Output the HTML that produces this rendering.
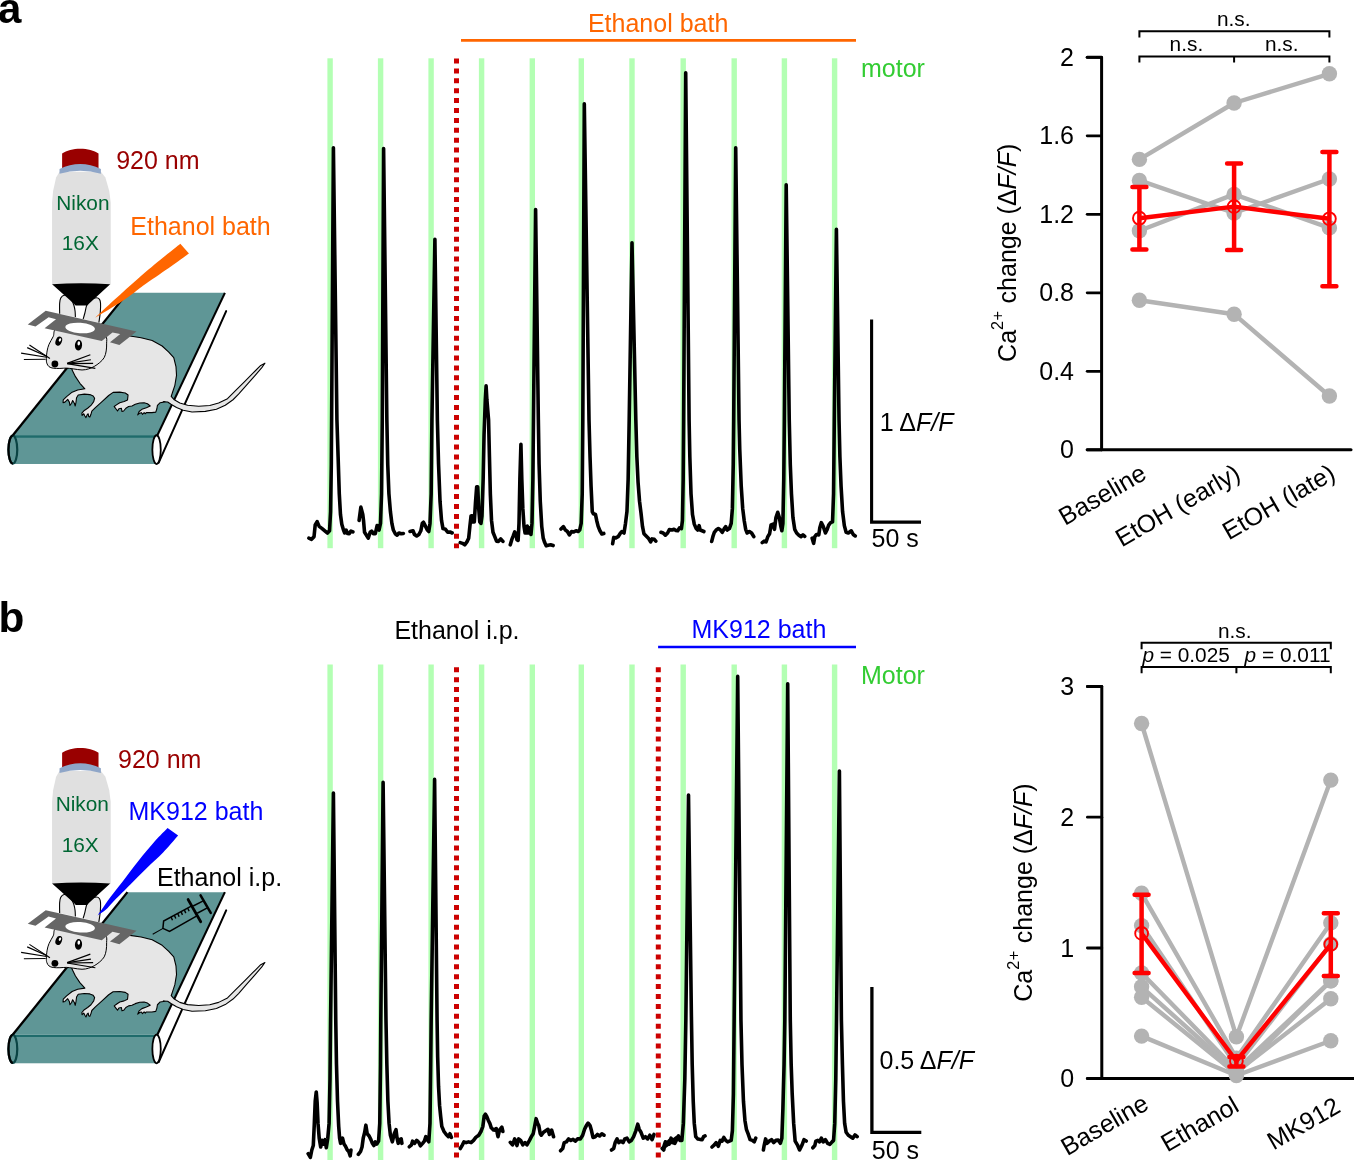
<!DOCTYPE html>
<html><head><meta charset="utf-8"><title>Figure</title>
<style>
html,body{margin:0;padding:0;background:#fff;}
body{width:1354px;height:1160px;overflow:hidden;}
svg{display:block;font-family:'Liberation Sans', sans-serif;}
</style></head><body>
<svg width="1354" height="1160" viewBox="0 0 1354 1160">
<rect width="1354" height="1160" fill="#fff"/>
<text x="-2.00" y="22.70" font-size="42" fill="#000" text-anchor="start" font-weight="bold">a</text>
<text x="-1.50" y="632.30" font-size="42.3" fill="#000" text-anchor="start" font-weight="bold">b</text>
<rect x="327.40" y="58.30" width="5.4" height="489.90" fill="#b3ffb3"/>
<rect x="377.90" y="58.30" width="5.4" height="489.90" fill="#b3ffb3"/>
<rect x="428.40" y="58.30" width="5.4" height="489.90" fill="#b3ffb3"/>
<rect x="478.90" y="58.30" width="5.4" height="489.90" fill="#b3ffb3"/>
<rect x="529.60" y="58.30" width="5.4" height="489.90" fill="#b3ffb3"/>
<rect x="578.60" y="58.30" width="5.4" height="489.90" fill="#b3ffb3"/>
<rect x="629.30" y="58.30" width="5.4" height="489.90" fill="#b3ffb3"/>
<rect x="680.50" y="58.30" width="5.4" height="489.90" fill="#b3ffb3"/>
<rect x="731.50" y="58.30" width="5.4" height="489.90" fill="#b3ffb3"/>
<rect x="781.70" y="58.30" width="5.4" height="489.90" fill="#b3ffb3"/>
<rect x="831.90" y="58.30" width="5.4" height="489.90" fill="#b3ffb3"/>
<line x1="456.50" y1="58.50" x2="456.50" y2="548.20" stroke="#cc0000" stroke-width="5" stroke-dasharray="5 4.9"/>
<path d="M308.86,538.17 L311.52,539.35 L314.03,536.69 L315.21,524.87 L317.13,521.62 L319.20,526.35 L322.16,528.57 L325.11,531.08 L327.47,533.00 L329.54,530.78 L330.58,511.58 L331.31,464.31 L331.61,420.00 L333.40,147.80 L336.93,420.00 L338.11,456.93 L339.29,493.86 L340.47,514.53 L341.80,524.14 L343.28,529.31 L344.61,533.00 L346.09,530.04 L347.56,533.44 L349.19,533.74 L350.96,531.08 L352.88,531.96" fill="none" stroke="#000" stroke-width="3.6" stroke-linejoin="round" stroke-linecap="round"/>
<path d="M359.08,520.44 L360.86,507.15 L362.78,514.53 L363.52,520.44 L364.55,532.26 L366.47,535.21 L368.24,538.17 L370.16,532.26 L371.64,531.08 L373.41,533.74 L375.33,533.74 L377.10,525.61 L379.03,530.04 L380.50,523.40 L381.54,493.86 L382.27,420.00 L383.60,148.50 L386.85,420.00 L387.74,464.31 L388.92,493.86 L390.40,511.58 L391.88,523.40 L393.35,530.04 L395.27,533.74 L397.19,535.21 L398.97,533.00 L401.18,533.74 L403.40,533.44" fill="none" stroke="#000" stroke-width="3.6" stroke-linejoin="round" stroke-linecap="round"/>
<path d="M410.04,531.52 L413.00,530.78 L414.48,534.48 L416.69,535.95 L418.91,534.48 L420.83,530.78 L422.30,523.40 L423.49,522.22 L425.55,526.35 L427.33,530.04 L428.80,531.52 L429.99,523.40 L431.17,493.86 L431.91,420.00 L434.90,239.20 L437.37,420.00 L438.55,464.31 L440.03,501.24 L441.51,520.44 L442.98,528.57 L445.49,529.31 L447.71,532.26 L449.93,531.96 L452.14,533.00" fill="none" stroke="#000" stroke-width="3.6" stroke-linejoin="round" stroke-linecap="round"/>
<path d="M460.27,542.60 L462.48,543.34 L464.70,544.82 L466.91,541.86 L468.69,538.17 L469.87,526.35 L471.05,516.01 L472.08,515.72 L473.12,521.92 L474.30,521.92 L475.48,502.72 L476.66,486.77 L477.70,486.77 L478.73,508.63 L479.76,521.92 L480.95,523.40 L481.98,516.01 L483.16,479.08 L484.05,434.77 L485.30,400.00 L486.10,385.80 L486.90,400.00 L488.57,420.00 L489.45,456.93 L490.34,493.86 L491.52,520.44 L493.00,532.26 L494.77,536.69 L496.54,541.12 L498.46,541.42 L500.68,538.91 L502.90,541.42" fill="none" stroke="#000" stroke-width="3.6" stroke-linejoin="round" stroke-linecap="round"/>
<path d="M510.28,544.82 L511.76,539.65 L513.23,535.95 L514.71,531.96 L515.89,533.74 L516.93,539.65 L518.11,540.38 L519.00,523.40 L519.88,479.08 L520.92,444.37 L521.80,479.08 L522.84,508.63 L524.02,526.35 L525.05,533.00 L526.23,533.00 L527.27,526.06 L528.45,533.00 L529.93,527.83 L530.96,534.48 L531.99,523.40 L532.88,479.08 L533.47,420.00 L535.60,209.50 L538.35,420.00 L539.08,464.31 L540.27,501.24 L541.74,526.35 L543.22,538.17 L544.70,542.60 L546.17,545.85 L548.24,545.26 L550.61,544.82 L553.12,545.55" fill="none" stroke="#000" stroke-width="3.6" stroke-linejoin="round" stroke-linecap="round"/>
<path d="M560.95,529.01 L563.46,526.65 L565.38,530.04 L567.44,531.52 L569.36,534.92 L571.58,531.52 L573.80,531.96 L576.01,530.78 L578.23,531.52 L579.70,530.04 L581.18,523.40 L582.22,493.86 L582.81,420.00 L584.30,103.80 L589.01,420.00 L590.04,456.93 L591.08,486.47 L592.26,511.58 L593.44,513.80 L595.51,514.53 L596.69,520.44 L598.17,526.35 L599.94,530.78 L601.86,534.03 L603.78,533.44" fill="none" stroke="#000" stroke-width="3.6" stroke-linejoin="round" stroke-linecap="round"/>
<path d="M612.64,543.78 L613.68,537.43 L615.89,537.87 L618.11,536.69 L620.03,533.74 L621.80,531.52 L624.02,533.00 L625.49,523.40 L626.97,511.58 L628.15,479.08 L629.19,420.00 L632.00,242.80 L635.83,420.00 L636.87,456.93 L638.05,482.04 L639.53,501.24 L641.00,513.06 L642.48,526.35 L643.96,533.74 L646.17,535.95 L648.39,538.17 L650.61,541.86 L652.08,538.91 L654.30,539.35 L655.78,541.12" fill="none" stroke="#000" stroke-width="3.6" stroke-linejoin="round" stroke-linecap="round"/>
<path d="M660.95,532.26 L663.16,533.00 L665.38,535.21 L667.59,533.00 L669.36,529.60 L672.02,530.04 L674.03,529.31 L675.95,530.49 L677.73,530.78 L679.50,527.83 L681.42,528.57 L682.45,520.44 L683.19,479.08 L683.63,420.00 L685.70,72.80 L689.10,420.00 L689.84,456.93 L691.02,493.86 L692.50,514.53 L694.27,524.14 L696.19,528.57 L697.67,530.04 L699.14,525.61 L700.18,530.04 L702.10,530.78 L703.87,531.52" fill="none" stroke="#000" stroke-width="3.6" stroke-linejoin="round" stroke-linecap="round"/>
<path d="M711.70,541.42 L712.88,536.69 L714.36,532.26 L716.13,530.04 L718.35,528.57 L720.56,530.04 L722.33,532.26 L724.25,528.57 L725.73,526.65 L727.21,530.04 L729.42,528.57 L731.20,523.40 L732.38,508.63 L733.26,464.31 L733.71,420.00 L735.70,147.80 L739.03,420.00 L739.76,449.54 L741.24,486.47 L742.72,508.63 L744.19,520.44 L745.67,529.31 L747.15,533.00 L749.36,531.52 L751.58,533.00 L753.80,536.69" fill="none" stroke="#000" stroke-width="3.6" stroke-linejoin="round" stroke-linecap="round"/>
<path d="M762.22,542.60 L764.14,541.12 L766.06,541.86 L767.83,536.69 L769.60,533.74 L771.08,524.87 L773.00,524.14 L774.48,529.31 L775.95,517.49 L777.73,512.32 L779.35,517.49 L780.83,526.35 L781.86,530.78 L782.90,523.40 L783.78,479.08 L784.37,420.00 L786.20,184.80 L789.25,420.00 L790.28,464.31 L791.46,493.86 L792.94,517.49 L794.71,529.31 L796.63,533.00 L798.85,535.21 L801.06,536.69 L802.98,534.92 L804.76,536.40" fill="none" stroke="#000" stroke-width="3.6" stroke-linejoin="round" stroke-linecap="round"/>
<path d="M812.14,538.17 L813.62,543.34 L814.80,536.69 L816.57,534.48 L818.79,534.92 L819.82,527.83 L821.30,522.66 L823.22,526.35 L825.44,533.00 L826.91,530.04 L828.69,525.17 L830.61,522.66 L832.53,521.92 L833.56,493.86 L834.30,420.00 L836.40,229.20 L839.03,420.00 L839.91,456.93 L841.09,486.47 L842.57,511.58 L844.34,525.61 L846.12,532.26 L848.33,533.00 L851.29,530.78 L853.21,534.48 L855.27,535.95" fill="none" stroke="#000" stroke-width="3.6" stroke-linejoin="round" stroke-linecap="round"/>
<line x1="461.00" y1="40.40" x2="856.00" y2="40.40" stroke="#ff6600" stroke-width="2.7"/>
<text x="587.90" y="31.70" font-size="25" fill="#ff6600" text-anchor="start">Ethanol bath</text>
<text x="861.00" y="76.80" font-size="25" fill="#33cc33" text-anchor="start">motor</text>
<path d="M871.6,319.6 L871.6,522.1 L921,522.1" fill="none" stroke="#000" stroke-width="3.1"/>
<text x="879.80" y="430.70" font-size="25" fill="#000" text-anchor="start">1 Δ<tspan font-style="italic">F/F</tspan></text>
<text x="871.60" y="547.40" font-size="25" fill="#000" text-anchor="start">50 s</text>
<rect x="327.40" y="664.50" width="5.4" height="495.50" fill="#b3ffb3"/>
<rect x="377.90" y="664.50" width="5.4" height="495.50" fill="#b3ffb3"/>
<rect x="428.40" y="664.50" width="5.4" height="495.50" fill="#b3ffb3"/>
<rect x="478.90" y="664.50" width="5.4" height="495.50" fill="#b3ffb3"/>
<rect x="529.60" y="664.50" width="5.4" height="495.50" fill="#b3ffb3"/>
<rect x="578.60" y="664.50" width="5.4" height="495.50" fill="#b3ffb3"/>
<rect x="629.30" y="664.50" width="5.4" height="495.50" fill="#b3ffb3"/>
<rect x="680.50" y="664.50" width="5.4" height="495.50" fill="#b3ffb3"/>
<rect x="731.50" y="664.50" width="5.4" height="495.50" fill="#b3ffb3"/>
<rect x="781.70" y="664.50" width="5.4" height="495.50" fill="#b3ffb3"/>
<rect x="831.90" y="664.50" width="5.4" height="495.50" fill="#b3ffb3"/>
<line x1="456.50" y1="667.30" x2="456.50" y2="1160.00" stroke="#cc0000" stroke-width="5" stroke-dasharray="5 4.9"/>
<line x1="658.30" y1="667.30" x2="658.30" y2="1160.00" stroke="#cc0000" stroke-width="5" stroke-dasharray="5 4.9"/>
<path d="M308.12,1153.68 L310.34,1157.37 L311.82,1149.99 L313.29,1145.55 L314.33,1123.40 L315.21,1101.24 L316.25,1091.94 L317.13,1102.72 L318.02,1123.40 L319.20,1138.17 L320.68,1147.03 L322.16,1140.38 L323.63,1144.08 L325.11,1139.65 L326.29,1147.77 L327.77,1138.17 L329.10,1123.40 L329.99,1079.08 L330.58,1020.00 L333.40,793.00 L335.75,1020.00 L336.48,1064.31 L337.52,1101.24 L338.70,1126.35 L339.59,1138.17 L340.62,1143.34 L342.54,1138.17 L344.02,1144.08 L345.49,1146.29 L347.27,1149.99 L348.74,1151.46 L350.22,1155.89 L350.96,1149.99" fill="none" stroke="#000" stroke-width="3.6" stroke-linejoin="round" stroke-linecap="round"/>
<path d="M358.35,1154.42 L360.56,1151.46 L362.04,1147.03 L363.22,1138.17 L364.70,1132.26 L365.88,1125.17 L367.21,1133.74 L369.13,1135.95 L370.90,1139.65 L372.38,1143.34 L373.86,1145.55 L375.33,1141.86 L376.81,1144.08 L378.58,1141.12 L379.76,1123.40 L380.50,1064.31 L380.80,1020.00 L383.10,782.40 L385.97,1020.00 L386.85,1064.31 L387.89,1101.24 L389.07,1123.40 L390.40,1135.21 L392.32,1141.86 L394.24,1133.74 L396.01,1129.60 L397.05,1138.17 L398.23,1143.34 L399.70,1139.65 L401.18,1138.91 L401.92,1143.34" fill="none" stroke="#000" stroke-width="3.6" stroke-linejoin="round" stroke-linecap="round"/>
<path d="M409.31,1146.74 L411.52,1144.82 L412.56,1141.12 L414.48,1143.34 L416.69,1140.38 L418.91,1142.60 L420.38,1145.85 L422.60,1143.34 L424.37,1141.12 L425.85,1136.69 L427.33,1139.65 L428.80,1141.86 L429.99,1123.40 L430.72,1064.31 L431.17,1020.00 L434.60,779.40 L437.08,1020.00 L437.67,1056.93 L438.55,1086.47 L439.59,1105.67 L440.62,1116.01 L441.80,1126.35 L444.02,1131.52 L446.23,1134.48 L448.45,1136.69 L449.93,1133.74 L451.40,1137.43" fill="none" stroke="#000" stroke-width="3.6" stroke-linejoin="round" stroke-linecap="round"/>
<path d="M460.27,1148.51 L462.48,1144.82 L463.96,1141.86 L466.17,1142.60 L468.39,1141.86 L471.05,1142.60 L473.56,1140.38 L475.78,1137.43 L478.73,1135.21 L480.95,1131.52 L482.87,1126.35 L484.19,1116.01 L485.38,1114.24 L486.85,1116.75 L488.33,1120.44 L489.81,1123.40 L491.29,1127.83 L493.50,1130.04 L495.72,1129.01 L497.93,1130.78 L494.03,1130.04 L496.25,1128.57 L498.02,1136.69 L499.50,1130.04 L501.86,1127.09 L502.90,1131.52" fill="none" stroke="#000" stroke-width="3.6" stroke-linejoin="round" stroke-linecap="round"/>
<path d="M510.28,1142.30 L512.50,1144.82 L514.71,1138.91 L516.93,1145.55 L518.70,1138.91 L520.62,1140.38 L522.84,1144.82 L525.05,1142.60 L526.97,1144.82 L529.48,1140.38 L531.40,1136.69 L533.18,1133.74 L534.65,1126.35 L536.13,1118.67 L537.61,1123.40 L538.79,1125.61 L540.27,1133.74 L541.30,1135.21 L543.52,1132.26 L545.73,1130.78 L547.95,1129.31 L549.42,1134.48 L551.64,1130.04 L553.56,1136.69" fill="none" stroke="#000" stroke-width="3.6" stroke-linejoin="round" stroke-linecap="round"/>
<path d="M560.50,1150.72 L562.72,1148.51 L564.19,1142.60 L566.41,1141.86 L568.63,1138.91 L570.84,1140.38 L573.06,1139.35 L575.27,1141.12 L577.49,1138.91 L580.44,1138.91 L582.66,1135.21 L584.58,1129.31 L586.35,1125.61 L588.12,1123.10 L590.04,1125.61 L591.52,1130.78 L593.00,1137.43 L595.21,1136.69 L597.43,1134.48 L599.65,1135.95 L601.86,1133.74 L604.08,1135.21" fill="none" stroke="#000" stroke-width="3.6" stroke-linejoin="round" stroke-linecap="round"/>
<path d="M611.46,1149.99 L613.68,1148.51 L615.16,1142.60 L617.08,1138.91 L618.85,1142.60 L621.06,1141.12 L622.98,1142.60 L624.76,1138.91 L626.97,1138.17 L629.19,1141.86 L631.40,1140.38 L633.62,1136.69 L635.83,1130.78 L637.75,1124.14 L639.23,1129.31 L641.00,1132.26 L643.22,1138.17 L645.44,1136.69 L647.65,1138.91 L649.87,1135.21 L652.08,1139.65 L654.00,1134.48" fill="none" stroke="#000" stroke-width="3.6" stroke-linejoin="round" stroke-linecap="round"/>
<path d="M663.16,1148.51 L665.38,1141.86 L667.59,1142.60 L669.81,1140.38 L671.29,1138.91 L673.50,1141.86 L675.72,1138.91 L677.93,1136.69 L662.22,1148.51 L663.69,1149.99 L665.61,1141.86 L667.39,1143.34 L669.16,1144.08 L671.08,1138.17 L672.56,1142.60 L674.77,1143.34 L676.25,1140.38 L678.46,1135.95 L679.94,1140.38 L681.86,1140.38 L683.34,1123.40 L684.82,1079.08 L685.85,1020.00 L688.50,795.00 L691.46,1020.00 L692.20,1064.31 L693.23,1101.24 L694.27,1123.40 L695.75,1136.69 L697.67,1138.91 L699.88,1139.35 L702.10,1139.65 L703.57,1136.69 L705.05,1135.95" fill="none" stroke="#000" stroke-width="3.6" stroke-linejoin="round" stroke-linecap="round"/>
<path d="M711.99,1147.03 L714.36,1144.82 L716.13,1142.60 L718.35,1146.29 L720.27,1140.38 L722.04,1141.12 L723.81,1137.43 L725.73,1140.38 L727.65,1141.86 L729.42,1141.12 L731.20,1140.38 L732.38,1130.78 L733.41,1093.86 L734.15,1020.00 L737.70,676.40 L740.95,1020.00 L741.98,1064.31 L743.46,1101.24 L744.93,1120.44 L746.41,1129.31 L748.33,1134.48 L750.10,1139.65 L752.32,1140.38 L754.24,1141.86 L755.72,1138.17" fill="none" stroke="#000" stroke-width="3.6" stroke-linejoin="round" stroke-linecap="round"/>
<path d="M763.40,1149.99 L764.14,1145.55 L765.61,1138.91 L767.09,1143.34 L769.31,1141.12 L771.52,1139.65 L773.74,1142.60 L775.95,1140.38 L778.17,1139.94 L780.38,1143.34 L781.86,1138.17 L782.90,1108.63 L784.08,1064.31 L784.82,1020.00 L787.70,683.70 L790.28,1020.00 L791.17,1064.31 L792.20,1093.86 L793.68,1123.40 L795.16,1141.12 L797.37,1144.82 L799.59,1149.99 L801.80,1145.55 L804.02,1139.65 L806.23,1141.12" fill="none" stroke="#000" stroke-width="3.6" stroke-linejoin="round" stroke-linecap="round"/>
<path d="M812.88,1147.77 L814.80,1145.55 L815.83,1141.12 L817.75,1140.38 L819.53,1141.86 L821.30,1138.17 L823.22,1141.86 L825.44,1139.65 L827.65,1143.34 L829.87,1144.37 L832.08,1141.86 L833.56,1140.38 L834.74,1123.40 L835.78,1079.08 L836.51,1020.00 L839.40,771.00 L841.39,1020.00 L842.42,1064.31 L843.46,1101.24 L844.64,1123.40 L846.12,1132.26 L848.33,1135.21 L850.55,1136.69 L852.76,1138.17 L854.98,1134.92 L857.19,1136.69" fill="none" stroke="#000" stroke-width="3.6" stroke-linejoin="round" stroke-linecap="round"/>
<line x1="658.10" y1="647.00" x2="856.00" y2="647.00" stroke="#0000ff" stroke-width="2.4"/>
<text x="691.50" y="638.40" font-size="25" fill="#0000ff" text-anchor="start">MK912 bath</text>
<text x="394.40" y="638.60" font-size="25" fill="#000" text-anchor="start">Ethanol i.p.</text>
<text x="861.00" y="683.60" font-size="25" fill="#33cc33" text-anchor="start">Motor</text>
<path d="M871.9,987 L871.9,1132.4 L921.3,1132.4" fill="none" stroke="#000" stroke-width="3.3"/>
<text x="879.50" y="1069.40" font-size="25" fill="#000" text-anchor="start">0.5 Δ<tspan font-style="italic">F/F</tspan></text>
<text x="871.80" y="1158.60" font-size="25" fill="#000" text-anchor="start">50 s</text>
<path d="M1087.20,57.30 L1101.60,57.30 L1101.60,449.80" stroke="#000" stroke-width="3" fill="none" stroke-linejoin="round" stroke-linecap="round"/>
<line x1="1087.20" y1="449.80" x2="1351.00" y2="449.80" stroke="#000" stroke-width="3" stroke-linecap="round"/>
<line x1="1087.20" y1="57.30" x2="1101.60" y2="57.30" stroke="#000" stroke-width="2.8" stroke-linecap="round"/>
<text x="1074.00" y="65.80" font-size="25" fill="#000" text-anchor="end">2</text>
<line x1="1087.20" y1="135.80" x2="1101.60" y2="135.80" stroke="#000" stroke-width="2.8" stroke-linecap="round"/>
<text x="1074.00" y="144.30" font-size="25" fill="#000" text-anchor="end">1.6</text>
<line x1="1087.20" y1="214.30" x2="1101.60" y2="214.30" stroke="#000" stroke-width="2.8" stroke-linecap="round"/>
<text x="1074.00" y="222.80" font-size="25" fill="#000" text-anchor="end">1.2</text>
<line x1="1087.20" y1="292.80" x2="1101.60" y2="292.80" stroke="#000" stroke-width="2.8" stroke-linecap="round"/>
<text x="1074.00" y="301.30" font-size="25" fill="#000" text-anchor="end">0.8</text>
<line x1="1087.20" y1="371.30" x2="1101.60" y2="371.30" stroke="#000" stroke-width="2.8" stroke-linecap="round"/>
<text x="1074.00" y="379.80" font-size="25" fill="#000" text-anchor="end">0.4</text>
<line x1="1087.20" y1="449.80" x2="1101.60" y2="449.80" stroke="#000" stroke-width="2.8" stroke-linecap="round"/>
<text x="1074.00" y="458.30" font-size="25" fill="#000" text-anchor="end">0</text>
<path d="M1139.40,159.40 L1234.10,103.00 L1329.40,73.80" fill="none" stroke="#b3b3b3" stroke-width="4.4" stroke-linejoin="round"/>
<circle cx="1139.40" cy="159.40" r="7.7" fill="#b3b3b3"/>
<circle cx="1234.10" cy="103.00" r="7.7" fill="#b3b3b3"/>
<circle cx="1329.40" cy="73.80" r="7.7" fill="#b3b3b3"/>
<path d="M1139.40,180.40 L1234.10,213.00 L1329.40,179.00" fill="none" stroke="#b3b3b3" stroke-width="4.4" stroke-linejoin="round"/>
<circle cx="1139.40" cy="180.40" r="7.7" fill="#b3b3b3"/>
<circle cx="1234.10" cy="213.00" r="7.7" fill="#b3b3b3"/>
<circle cx="1329.40" cy="179.00" r="7.7" fill="#b3b3b3"/>
<path d="M1139.40,230.70 L1234.10,194.40 L1329.40,227.90" fill="none" stroke="#b3b3b3" stroke-width="4.4" stroke-linejoin="round"/>
<circle cx="1139.40" cy="230.70" r="7.7" fill="#b3b3b3"/>
<circle cx="1234.10" cy="194.40" r="7.7" fill="#b3b3b3"/>
<circle cx="1329.40" cy="227.90" r="7.7" fill="#b3b3b3"/>
<path d="M1139.40,300.30 L1234.10,314.20 L1329.40,396.00" fill="none" stroke="#b3b3b3" stroke-width="4.4" stroke-linejoin="round"/>
<circle cx="1139.40" cy="300.30" r="7.7" fill="#b3b3b3"/>
<circle cx="1234.10" cy="314.20" r="7.7" fill="#b3b3b3"/>
<circle cx="1329.40" cy="396.00" r="7.7" fill="#b3b3b3"/>
<path d="M1139.40,187.00 L1139.40,249.40 M1132.40,187.00 L1146.40,187.00 M1132.40,249.40 L1146.40,249.40" stroke="#ff0000" stroke-width="4.5" fill="none" stroke-linecap="round"/>
<path d="M1234.10,163.50 L1234.10,250.00 M1227.10,163.50 L1241.10,163.50 M1227.10,250.00 L1241.10,250.00" stroke="#ff0000" stroke-width="4.5" fill="none" stroke-linecap="round"/>
<path d="M1329.40,151.90 L1329.40,286.20 M1322.40,151.90 L1336.40,151.90 M1322.40,286.20 L1336.40,286.20" stroke="#ff0000" stroke-width="4.5" fill="none" stroke-linecap="round"/>
<path d="M1139.40,218.20 L1234.10,206.60 L1329.40,218.80" fill="none" stroke="#ff0000" stroke-width="4.4" stroke-linejoin="round"/>
<circle cx="1139.40" cy="218.20" r="6.4" fill="none" stroke="#ff0000" stroke-width="1.9"/>
<circle cx="1234.10" cy="206.60" r="6.4" fill="none" stroke="#ff0000" stroke-width="1.9"/>
<circle cx="1329.40" cy="218.80" r="6.4" fill="none" stroke="#ff0000" stroke-width="1.9"/>
<text x="1148.00" y="478.00" font-size="25" fill="#000" text-anchor="end" transform="rotate(-30 1148.00 478.00)">Baseline</text>
<text x="1242.00" y="478.00" font-size="25" fill="#000" text-anchor="end" transform="rotate(-30 1242.00 478.00)">EtOH (early)</text>
<text x="1337.00" y="478.00" font-size="25" fill="#000" text-anchor="end" transform="rotate(-30 1337.00 478.00)">EtOH (late)</text>
<text x="1016.30" y="361.90" font-size="25" fill="#000" text-anchor="start" transform="rotate(-90 1016.30 361.90)">Ca<tspan font-size="16.2" dy="-12.8" letter-spacing="0.55">2+</tspan><tspan dy="12.8"> change (</tspan>Δ<tspan font-style="italic">F/F</tspan>)</text>
<path d="M1139.40,37.6 L1139.40,31.2 L1329.40,31.2 L1329.40,37.6" fill="none" stroke="#000" stroke-width="2"/>
<path d="M1139.40,62.4 L1139.40,56.4 L1329.40,56.4 L1329.40,62.4 M1234.10,56.4 L1234.10,62.4" fill="none" stroke="#000" stroke-width="2"/>
<text x="1233.80" y="26.40" font-size="20.83" fill="#000" text-anchor="middle">n.s.</text>
<text x="1186.40" y="51.10" font-size="20.83" fill="#000" text-anchor="middle">n.s.</text>
<text x="1281.70" y="51.10" font-size="20.83" fill="#000" text-anchor="middle">n.s.</text>
<path d="M1087.40,686.50 L1101.80,686.50 L1101.80,1078.40" stroke="#000" stroke-width="3" fill="none" stroke-linejoin="round" stroke-linecap="round"/>
<line x1="1087.40" y1="1078.40" x2="1356.00" y2="1078.40" stroke="#000" stroke-width="3" stroke-linecap="round"/>
<line x1="1087.40" y1="686.50" x2="1101.80" y2="686.50" stroke="#000" stroke-width="2.8" stroke-linecap="round"/>
<text x="1074.20" y="695.00" font-size="25" fill="#000" text-anchor="end">3</text>
<line x1="1087.40" y1="817.20" x2="1101.80" y2="817.20" stroke="#000" stroke-width="2.8" stroke-linecap="round"/>
<text x="1074.20" y="825.70" font-size="25" fill="#000" text-anchor="end">2</text>
<line x1="1087.40" y1="948.00" x2="1101.80" y2="948.00" stroke="#000" stroke-width="2.8" stroke-linecap="round"/>
<text x="1074.20" y="956.50" font-size="25" fill="#000" text-anchor="end">1</text>
<line x1="1087.40" y1="1078.40" x2="1101.80" y2="1078.40" stroke="#000" stroke-width="2.8" stroke-linecap="round"/>
<text x="1074.20" y="1086.90" font-size="25" fill="#000" text-anchor="end">0</text>
<path d="M1141.60,723.50 L1236.40,1036.70 L1330.80,780.10" fill="none" stroke="#b3b3b3" stroke-width="4.4" stroke-linejoin="round"/>
<circle cx="1141.60" cy="723.50" r="7.7" fill="#b3b3b3"/>
<circle cx="1236.40" cy="1036.70" r="7.7" fill="#b3b3b3"/>
<circle cx="1330.80" cy="780.10" r="7.7" fill="#b3b3b3"/>
<path d="M1141.60,893.30 L1236.40,1058.20 L1330.80,922.90" fill="none" stroke="#b3b3b3" stroke-width="4.4" stroke-linejoin="round"/>
<circle cx="1141.60" cy="893.30" r="7.7" fill="#b3b3b3"/>
<circle cx="1236.40" cy="1058.20" r="7.7" fill="#b3b3b3"/>
<circle cx="1330.80" cy="922.90" r="7.7" fill="#b3b3b3"/>
<path d="M1141.60,925.60 L1236.40,1066.00 L1330.80,944.00" fill="none" stroke="#b3b3b3" stroke-width="4.4" stroke-linejoin="round"/>
<circle cx="1141.60" cy="925.60" r="7.7" fill="#b3b3b3"/>
<circle cx="1236.40" cy="1066.00" r="7.7" fill="#b3b3b3"/>
<circle cx="1330.80" cy="944.00" r="7.7" fill="#b3b3b3"/>
<path d="M1141.60,973.00 L1236.40,1070.00 L1330.80,980.90" fill="none" stroke="#b3b3b3" stroke-width="4.4" stroke-linejoin="round"/>
<circle cx="1141.60" cy="973.00" r="7.7" fill="#b3b3b3"/>
<circle cx="1236.40" cy="1070.00" r="7.7" fill="#b3b3b3"/>
<circle cx="1330.80" cy="980.90" r="7.7" fill="#b3b3b3"/>
<path d="M1141.60,986.80 L1236.40,1072.00 L1330.80,998.80" fill="none" stroke="#b3b3b3" stroke-width="4.4" stroke-linejoin="round"/>
<circle cx="1141.60" cy="986.80" r="7.7" fill="#b3b3b3"/>
<circle cx="1236.40" cy="1072.00" r="7.7" fill="#b3b3b3"/>
<circle cx="1330.80" cy="998.80" r="7.7" fill="#b3b3b3"/>
<path d="M1141.60,997.20 L1236.40,1074.00 L1330.80,980.90" fill="none" stroke="#b3b3b3" stroke-width="4.4" stroke-linejoin="round"/>
<circle cx="1141.60" cy="997.20" r="7.7" fill="#b3b3b3"/>
<circle cx="1236.40" cy="1074.00" r="7.7" fill="#b3b3b3"/>
<circle cx="1330.80" cy="980.90" r="7.7" fill="#b3b3b3"/>
<path d="M1141.60,1036.10 L1236.40,1075.50 L1330.80,1040.80" fill="none" stroke="#b3b3b3" stroke-width="4.4" stroke-linejoin="round"/>
<circle cx="1141.60" cy="1036.10" r="7.7" fill="#b3b3b3"/>
<circle cx="1236.40" cy="1075.50" r="7.7" fill="#b3b3b3"/>
<circle cx="1330.80" cy="1040.80" r="7.7" fill="#b3b3b3"/>
<path d="M1141.60,894.70 L1141.60,973.10 M1134.60,894.70 L1148.60,894.70 M1134.60,973.10 L1148.60,973.10" stroke="#ff0000" stroke-width="4.5" fill="none" stroke-linecap="round"/>
<path d="M1236.40,1056.90 L1236.40,1066.50 M1229.40,1056.90 L1243.40,1056.90 M1229.40,1066.50 L1243.40,1066.50" stroke="#ff0000" stroke-width="4.5" fill="none" stroke-linecap="round"/>
<path d="M1330.80,913.20 L1330.80,975.90 M1323.80,913.20 L1337.80,913.20 M1323.80,975.90 L1337.80,975.90" stroke="#ff0000" stroke-width="4.5" fill="none" stroke-linecap="round"/>
<path d="M1141.60,933.40 L1236.40,1061.00 L1330.80,944.40" fill="none" stroke="#ff0000" stroke-width="4.4" stroke-linejoin="round"/>
<circle cx="1141.60" cy="933.40" r="6.4" fill="none" stroke="#ff0000" stroke-width="1.9"/>
<circle cx="1236.40" cy="1061.00" r="6.4" fill="none" stroke="#ff0000" stroke-width="1.9"/>
<circle cx="1330.80" cy="944.40" r="6.4" fill="none" stroke="#ff0000" stroke-width="1.9"/>
<text x="1150.20" y="1108.20" font-size="25" fill="#000" text-anchor="end" transform="rotate(-30 1150.20 1108.20)">Baseline</text>
<text x="1240.70" y="1110.20" font-size="25" fill="#000" text-anchor="end" transform="rotate(-30 1240.70 1110.20)">Ethanol</text>
<text x="1342.00" y="1111.00" font-size="25" fill="#000" text-anchor="end" transform="rotate(-30 1342.00 1111.00)">MK912</text>
<text x="1031.80" y="1001.70" font-size="25" fill="#000" text-anchor="start" transform="rotate(-90 1031.80 1001.70)">Ca<tspan font-size="16.2" dy="-12.8" letter-spacing="0.55">2+</tspan><tspan dy="12.8"> change (</tspan>Δ<tspan font-style="italic">F/F</tspan>)</text>
<path d="M1141.60,649.2 L1141.60,642.8 L1330.80,642.8 L1330.80,649.2" fill="none" stroke="#000" stroke-width="2"/>
<path d="M1141.60,673.2 L1141.60,666.9 L1330.80,666.9 L1330.80,673.2 M1236.40,666.9 L1236.40,673.2" fill="none" stroke="#000" stroke-width="2"/>
<text x="1234.70" y="637.80" font-size="20.83" fill="#000" text-anchor="middle">n.s.</text>
<text x="1142.40" y="662.20" font-size="20.83" fill="#000" text-anchor="start"><tspan font-style="italic">p</tspan> = 0.025</text>
<text x="1244.60" y="662.20" font-size="20.83" fill="#000" text-anchor="start"><tspan font-style="italic">p</tspan> = 0.011</text>
<g><path d="M224.89,292.85 L226.17,311.06 L160.21,463.12 L157.42,435.28Z" fill="#fff" stroke="none"/>
<path d="M226.17,311.06 L158.71,462.69" fill="none" stroke="#000" stroke-width="2" stroke-linecap="round"/>
<path d="M127.44,292.85 L224.89,292.85 L157.42,435.28 L12.85,435.28Z" fill="#5f9696"/>
<rect x="12.85" y="435.28" width="143.50" height="28.70" fill="#5f9696"/>
<line x1="12.85" y1="436.48" x2="156.35" y2="436.48" stroke="#1f6b6b" stroke-width="2.3"/>
<ellipse cx="12.85" cy="449.63" rx="4.4" ry="14.0" fill="#5f9696" stroke="#0a4444" stroke-width="2.2"/>
<path d="M12.85,435.63 A4.4,14.0 0 0 0 12.85,463.63" fill="none" stroke="#000" stroke-width="2.2"/>
<ellipse cx="156.56" cy="449.63" rx="4.2" ry="14.4" fill="#fff" stroke="#000" stroke-width="1.8"/>
<path d="M12.85,435.28 L127.44,292.85" fill="none" stroke="#000" stroke-width="2.3"/>
<path d="M224.89,292.85 L157.10,435.92" fill="none" stroke="#000" stroke-width="2.1"/>
<path d="M95.00,325.00 L130.00,336.06 L141.08,337.72 L152.16,340.49 L162.13,346.03 L168.77,352.13 L173.76,357.66 L175.97,366.53 L176.53,375.39 L174.87,385.36 L172.65,392.01 L171.21,396.44 L174.31,399.76 L179.85,403.08 L187.60,405.30 L198.68,406.19 L209.76,405.52 L218.62,403.08 L227.49,398.65 L235.24,390.90 L244.10,382.04 L252.96,373.17 L260.72,365.42 L264.93,363.20 L261.83,367.63 L255.18,375.39 L246.32,385.36 L238.56,394.22 L233.02,399.76 L225.27,405.30 L216.41,409.18 L205.33,411.39 L192.04,411.95 L183.17,410.28 L176.53,407.52 L170.99,404.19 L167.66,401.98 L163.23,401.75 L165.18,401.90 L160.19,402.68 L157.43,405.45 L156.87,408.77 L155.76,412.10 L151.89,412.65 L146.35,412.65 L145.24,413.76 L144.13,412.65 L142.47,414.31 L141.36,412.65 L139.70,413.20 L137.71,414.87 L139.15,411.54 L141.92,409.33 L146.35,407.66 L150.22,406.00 L147.46,403.79 L144.13,402.68 L139.70,403.01 L135.27,404.34 L131.95,406.00 L128.62,406.56 L125.85,408.22 L123.64,410.99 L121.98,411.54 L121.42,408.22 L118.87,408.77 L117.55,410.99 L115.88,408.77 L114.22,406.56 L116.44,404.90 L119.76,402.68 L124.19,401.57 L127.52,399.91 L128.07,394.93 L125.30,393.04 L119.76,392.16 L113.11,392.38 L108.68,395.48 L102.04,401.57 L95.39,407.66 L91.84,411.21 L90.96,414.31 L89.85,417.08 L88.74,416.53 L88.19,413.76 L87.08,414.87 L85.97,417.63 L84.87,415.97 L83.76,413.76 L82.10,415.42 L81.87,413.20 L84.31,410.43 L87.63,408.22 L90.96,405.45 L93.73,401.57 L94.61,398.25 L93.17,396.03 L89.85,394.59 L84.31,394.15 L78.22,394.93 L76.56,397.69 L76.00,402.13 L75.23,406.00 L74.34,403.23 L72.68,400.46 L71.57,403.23 L69.91,405.45 L69.36,402.13 L67.69,399.36 L64.93,402.13 L63.04,402.68 L63.26,399.91 L66.59,396.59 L72.13,392.16 L77.66,389.94 L84.87,388.83 L79.88,383.29 L75.45,376.65 L72.13,370.00 L70.00,360.00Z" fill="#e6e6e6" stroke="#000" stroke-width="1.1" stroke-linejoin="round"/>
<path d="M59.66,313.82 C59.66,312.06 59.47,305.93 59.66,303.29 C59.84,300.65 60.03,299.32 60.77,297.98 C61.51,296.63 62.76,295.43 64.09,295.21 C65.42,294.99 67.41,295.67 68.74,296.65 C70.07,297.63 71.20,299.60 72.07,301.08 C72.93,302.55 73.45,303.85 73.95,305.51 C74.45,307.17 74.82,309.11 75.06,311.05 C75.30,312.99 75.33,316.13 75.39,317.14" fill="#e6e6e6" stroke="#000" stroke-width="1.1"/>
<path d="M83.14,319.02 C83.42,318.06 84.16,315.70 84.81,313.26 C85.45,310.83 86.01,306.71 87.02,304.40 C88.04,302.09 89.33,300.52 90.90,299.42 C92.47,298.31 95.00,297.75 96.44,297.75 C97.88,297.75 98.86,298.49 99.54,299.42 C100.22,300.34 100.41,301.17 100.54,303.29 C100.67,305.42 100.59,308.92 100.31,312.16 C100.04,315.39 99.11,320.93 98.87,322.68" fill="#e6e6e6" stroke="#000" stroke-width="1.1"/>
<path d="M56.56,328.77 C52.86,330.25 54.49,333.94 53.23,336.53 C51.98,339.11 50.04,341.88 49.02,344.28 C48.01,346.68 47.58,348.53 47.14,350.93 C46.70,353.33 46.42,356.65 46.37,358.68 C46.31,360.71 46.37,361.78 46.81,363.11 C47.25,364.44 47.95,365.81 49.02,366.66 C50.09,367.51 51.42,367.91 53.23,368.21 C55.04,368.51 57.66,368.45 59.88,368.43 C62.10,368.41 64.31,368.03 66.53,368.10 C68.74,368.17 70.59,368.56 73.17,368.87 C75.76,369.19 79.45,369.98 82.04,369.98 C84.62,369.98 86.65,369.47 88.68,368.87 C90.71,368.28 92.38,367.49 94.22,366.44 C96.07,365.38 98.10,364.04 99.76,362.56 C101.42,361.08 103.12,359.51 104.19,357.58 C105.26,355.64 105.78,353.33 106.19,350.93 C106.59,348.53 106.68,345.57 106.63,343.17 C106.57,340.77 107.37,338.37 105.85,336.53 C104.34,334.68 102.62,333.57 97.55,332.10 C92.47,330.62 82.22,328.22 75.39,327.66 C68.56,327.11 60.25,327.30 56.56,328.77Z" fill="#e6e6e6" stroke="#000" stroke-width="1"/>
<ellipse cx="58.77" cy="341.18" rx="3.1" ry="4.7" transform="rotate(22 58.77 341.18)" fill="#000"/>
<ellipse cx="59.97" cy="339.88" rx="1.1" ry="1.8" transform="rotate(22 59.97 339.88)" fill="#fff"/>
<ellipse cx="78.49" cy="345.17" rx="3.6" ry="5.4" transform="rotate(5 78.49 345.17)" fill="#000"/>
<ellipse cx="78.79" cy="343.37" rx="1.3" ry="2.1" transform="rotate(5 78.79 343.37)" fill="#fff"/>
<circle cx="54.90" cy="364.00" r="3.4" fill="#000"/>
<line x1="49.91" y1="358.46" x2="29.42" y2="345.06" stroke="#000" stroke-width="1.15"/>
<line x1="47.14" y1="356.47" x2="27.20" y2="347.60" stroke="#000" stroke-width="1.15"/>
<line x1="46.59" y1="357.24" x2="21.11" y2="353.14" stroke="#000" stroke-width="1.15"/>
<line x1="45.70" y1="359.24" x2="23.88" y2="359.46" stroke="#000" stroke-width="1.15"/>
<line x1="67.08" y1="363.34" x2="90.34" y2="354.81" stroke="#000" stroke-width="1.15"/>
<line x1="67.63" y1="363.34" x2="90.90" y2="359.79" stroke="#000" stroke-width="1.15"/>
<line x1="67.63" y1="363.67" x2="93.11" y2="363.34" stroke="#000" stroke-width="1.15"/>
<line x1="67.08" y1="363.67" x2="95.33" y2="368.43" stroke="#000" stroke-width="1.15"/>
<path d="M27.75,324.56 L45.70,310.83 L136.54,331.54 L119.37,345.06 L109.95,342.29 L120.25,334.09 L112.50,332.43 L101.75,340.96 L44.59,328.22 L56.00,319.13 L48.58,317.14 L35.51,326.56Z" fill="#666"/>
<ellipse cx="80.15" cy="328.00" rx="14.8" ry="5.2" transform="rotate(4 80.15 328.00)" fill="#fff"/>
<path d="M59.54,171.76 L100.88,171.76 L105.38,177.55 L109.23,191.04 L110.73,202.82 L110.73,284.64 L52.05,284.64 L52.05,202.82 L53.12,191.04 L56.11,177.55Z" fill="#e0e0e0"/>
<path d="M62.11,153.56 L62.11,168.98 L98.52,168.98 L98.52,153.56 C89.96,147.13 70.68,147.13 62.11,153.56 Z" fill="#990000"/>
<path d="M59.54,168.98 Q80.32,159.13 100.88,168.98 L100.88,173.69 Q80.32,167.70 59.54,173.69 Z" fill="#8fa6c8"/>
<path d="M52.09,284.30 Q81.09,282.19 110.17,284.30 L88.64,303.96 Q87.83,305.42 86.77,305.58 L76.05,305.58 Q75.08,305.42 74.26,303.96 Z" fill="#000"/>
<path d="M95.28,317.70 C98.46,314.72 107.13,306.46 114.37,299.83 C121.61,293.19 130.62,284.93 138.74,277.89 C146.86,270.85 156.18,263.27 163.11,257.58 C170.04,251.90 177.46,246.08 180.33,243.77 L188.94,253.52 C185.99,255.65 178.25,261.35 171.23,266.28 C164.22,271.20 152.96,278.76 146.86,283.09 C140.77,287.42 138.74,289.29 134.68,292.27 C130.62,295.25 126.56,298.25 122.49,300.96 C118.43,303.67 114.84,305.73 110.31,308.52 C105.77,311.31 97.78,316.17 95.28,317.70Z" fill="#ff6600"/></g>
<text x="116.20" y="168.90" font-size="25" fill="#990000" text-anchor="start">920 nm</text>
<text x="82.90" y="210.00" font-size="20.83" fill="#006633" text-anchor="middle">Nikon</text>
<text x="80.30" y="249.80" font-size="20.83" fill="#006633" text-anchor="middle">16X</text>
<text x="130.30" y="234.60" font-size="25" fill="#ff6600" text-anchor="start">Ethanol bath</text>
<g transform="translate(0,599.3)"><path d="M224.89,292.85 L226.17,311.06 L160.21,463.12 L157.42,435.28Z" fill="#fff" stroke="none"/>
<path d="M226.17,311.06 L158.71,462.69" fill="none" stroke="#000" stroke-width="2" stroke-linecap="round"/>
<path d="M127.44,292.85 L224.89,292.85 L157.42,435.28 L12.85,435.28Z" fill="#5f9696"/>
<rect x="12.85" y="435.28" width="143.50" height="28.70" fill="#5f9696"/>
<line x1="12.85" y1="436.48" x2="156.35" y2="436.48" stroke="#1f6b6b" stroke-width="2.3"/>
<ellipse cx="12.85" cy="449.63" rx="4.4" ry="14.0" fill="#5f9696" stroke="#0a4444" stroke-width="2.2"/>
<path d="M12.85,435.63 A4.4,14.0 0 0 0 12.85,463.63" fill="none" stroke="#000" stroke-width="2.2"/>
<ellipse cx="156.56" cy="449.63" rx="4.2" ry="14.4" fill="#fff" stroke="#000" stroke-width="1.8"/>
<path d="M12.85,435.28 L127.44,292.85" fill="none" stroke="#000" stroke-width="2.3"/>
<path d="M224.89,292.85 L157.10,435.92" fill="none" stroke="#000" stroke-width="2.1"/>
<line x1="152.70" y1="334.98" x2="163.04" y2="329.08" stroke="#000" stroke-width="1.1" stroke-linecap="butt"/>
<path d="M191.70,306.55 L163.63,321.69 L162.90,329.08 L169.54,332.03 L196.87,316.52" fill="none" stroke="#000" stroke-width="1.5" stroke-linejoin="miter"/>
<line x1="188.15" y1="300.27" x2="200.71" y2="322.43" stroke="#000" stroke-width="2.8" stroke-linecap="round"/>
<line x1="200.56" y1="296.06" x2="210.75" y2="313.57" stroke="#000" stroke-width="2.5" stroke-linecap="round"/>
<line x1="193.18" y1="306.70" x2="202.78" y2="301.90" stroke="#000" stroke-width="1.5" stroke-linecap="butt"/>
<line x1="197.24" y1="313.93" x2="206.84" y2="308.76" stroke="#000" stroke-width="1.5" stroke-linecap="butt"/>
<line x1="171.02" y1="317.71" x2="172.50" y2="320.96" stroke="#000" stroke-width="1.4" stroke-linecap="butt"/>
<line x1="174.34" y1="315.92" x2="175.82" y2="319.17" stroke="#000" stroke-width="1.4" stroke-linecap="butt"/>
<line x1="177.67" y1="314.13" x2="179.14" y2="317.38" stroke="#000" stroke-width="1.4" stroke-linecap="butt"/>
<line x1="180.99" y1="312.33" x2="182.47" y2="315.58" stroke="#000" stroke-width="1.4" stroke-linecap="butt"/>
<line x1="184.31" y1="310.54" x2="185.79" y2="313.79" stroke="#000" stroke-width="1.4" stroke-linecap="butt"/>
<line x1="187.64" y1="308.75" x2="189.11" y2="312.00" stroke="#000" stroke-width="1.4" stroke-linecap="butt"/>
<path d="M95.00,325.00 L130.00,336.06 L141.08,337.72 L152.16,340.49 L162.13,346.03 L168.77,352.13 L173.76,357.66 L175.97,366.53 L176.53,375.39 L174.87,385.36 L172.65,392.01 L171.21,396.44 L174.31,399.76 L179.85,403.08 L187.60,405.30 L198.68,406.19 L209.76,405.52 L218.62,403.08 L227.49,398.65 L235.24,390.90 L244.10,382.04 L252.96,373.17 L260.72,365.42 L264.93,363.20 L261.83,367.63 L255.18,375.39 L246.32,385.36 L238.56,394.22 L233.02,399.76 L225.27,405.30 L216.41,409.18 L205.33,411.39 L192.04,411.95 L183.17,410.28 L176.53,407.52 L170.99,404.19 L167.66,401.98 L163.23,401.75 L165.18,401.90 L160.19,402.68 L157.43,405.45 L156.87,408.77 L155.76,412.10 L151.89,412.65 L146.35,412.65 L145.24,413.76 L144.13,412.65 L142.47,414.31 L141.36,412.65 L139.70,413.20 L137.71,414.87 L139.15,411.54 L141.92,409.33 L146.35,407.66 L150.22,406.00 L147.46,403.79 L144.13,402.68 L139.70,403.01 L135.27,404.34 L131.95,406.00 L128.62,406.56 L125.85,408.22 L123.64,410.99 L121.98,411.54 L121.42,408.22 L118.87,408.77 L117.55,410.99 L115.88,408.77 L114.22,406.56 L116.44,404.90 L119.76,402.68 L124.19,401.57 L127.52,399.91 L128.07,394.93 L125.30,393.04 L119.76,392.16 L113.11,392.38 L108.68,395.48 L102.04,401.57 L95.39,407.66 L91.84,411.21 L90.96,414.31 L89.85,417.08 L88.74,416.53 L88.19,413.76 L87.08,414.87 L85.97,417.63 L84.87,415.97 L83.76,413.76 L82.10,415.42 L81.87,413.20 L84.31,410.43 L87.63,408.22 L90.96,405.45 L93.73,401.57 L94.61,398.25 L93.17,396.03 L89.85,394.59 L84.31,394.15 L78.22,394.93 L76.56,397.69 L76.00,402.13 L75.23,406.00 L74.34,403.23 L72.68,400.46 L71.57,403.23 L69.91,405.45 L69.36,402.13 L67.69,399.36 L64.93,402.13 L63.04,402.68 L63.26,399.91 L66.59,396.59 L72.13,392.16 L77.66,389.94 L84.87,388.83 L79.88,383.29 L75.45,376.65 L72.13,370.00 L70.00,360.00Z" fill="#e6e6e6" stroke="#000" stroke-width="1.1" stroke-linejoin="round"/>
<path d="M59.66,313.82 C59.66,312.06 59.47,305.93 59.66,303.29 C59.84,300.65 60.03,299.32 60.77,297.98 C61.51,296.63 62.76,295.43 64.09,295.21 C65.42,294.99 67.41,295.67 68.74,296.65 C70.07,297.63 71.20,299.60 72.07,301.08 C72.93,302.55 73.45,303.85 73.95,305.51 C74.45,307.17 74.82,309.11 75.06,311.05 C75.30,312.99 75.33,316.13 75.39,317.14" fill="#e6e6e6" stroke="#000" stroke-width="1.1"/>
<path d="M83.14,319.02 C83.42,318.06 84.16,315.70 84.81,313.26 C85.45,310.83 86.01,306.71 87.02,304.40 C88.04,302.09 89.33,300.52 90.90,299.42 C92.47,298.31 95.00,297.75 96.44,297.75 C97.88,297.75 98.86,298.49 99.54,299.42 C100.22,300.34 100.41,301.17 100.54,303.29 C100.67,305.42 100.59,308.92 100.31,312.16 C100.04,315.39 99.11,320.93 98.87,322.68" fill="#e6e6e6" stroke="#000" stroke-width="1.1"/>
<path d="M56.56,328.77 C52.86,330.25 54.49,333.94 53.23,336.53 C51.98,339.11 50.04,341.88 49.02,344.28 C48.01,346.68 47.58,348.53 47.14,350.93 C46.70,353.33 46.42,356.65 46.37,358.68 C46.31,360.71 46.37,361.78 46.81,363.11 C47.25,364.44 47.95,365.81 49.02,366.66 C50.09,367.51 51.42,367.91 53.23,368.21 C55.04,368.51 57.66,368.45 59.88,368.43 C62.10,368.41 64.31,368.03 66.53,368.10 C68.74,368.17 70.59,368.56 73.17,368.87 C75.76,369.19 79.45,369.98 82.04,369.98 C84.62,369.98 86.65,369.47 88.68,368.87 C90.71,368.28 92.38,367.49 94.22,366.44 C96.07,365.38 98.10,364.04 99.76,362.56 C101.42,361.08 103.12,359.51 104.19,357.58 C105.26,355.64 105.78,353.33 106.19,350.93 C106.59,348.53 106.68,345.57 106.63,343.17 C106.57,340.77 107.37,338.37 105.85,336.53 C104.34,334.68 102.62,333.57 97.55,332.10 C92.47,330.62 82.22,328.22 75.39,327.66 C68.56,327.11 60.25,327.30 56.56,328.77Z" fill="#e6e6e6" stroke="#000" stroke-width="1"/>
<ellipse cx="58.77" cy="341.18" rx="3.1" ry="4.7" transform="rotate(22 58.77 341.18)" fill="#000"/>
<ellipse cx="59.97" cy="339.88" rx="1.1" ry="1.8" transform="rotate(22 59.97 339.88)" fill="#fff"/>
<ellipse cx="78.49" cy="345.17" rx="3.6" ry="5.4" transform="rotate(5 78.49 345.17)" fill="#000"/>
<ellipse cx="78.79" cy="343.37" rx="1.3" ry="2.1" transform="rotate(5 78.79 343.37)" fill="#fff"/>
<circle cx="54.90" cy="364.00" r="3.4" fill="#000"/>
<line x1="49.91" y1="358.46" x2="29.42" y2="345.06" stroke="#000" stroke-width="1.15"/>
<line x1="47.14" y1="356.47" x2="27.20" y2="347.60" stroke="#000" stroke-width="1.15"/>
<line x1="46.59" y1="357.24" x2="21.11" y2="353.14" stroke="#000" stroke-width="1.15"/>
<line x1="45.70" y1="359.24" x2="23.88" y2="359.46" stroke="#000" stroke-width="1.15"/>
<line x1="67.08" y1="363.34" x2="90.34" y2="354.81" stroke="#000" stroke-width="1.15"/>
<line x1="67.63" y1="363.34" x2="90.90" y2="359.79" stroke="#000" stroke-width="1.15"/>
<line x1="67.63" y1="363.67" x2="93.11" y2="363.34" stroke="#000" stroke-width="1.15"/>
<line x1="67.08" y1="363.67" x2="95.33" y2="368.43" stroke="#000" stroke-width="1.15"/>
<path d="M27.75,324.56 L45.70,310.83 L136.54,331.54 L119.37,345.06 L109.95,342.29 L120.25,334.09 L112.50,332.43 L101.75,340.96 L44.59,328.22 L56.00,319.13 L48.58,317.14 L35.51,326.56Z" fill="#666"/>
<ellipse cx="80.15" cy="328.00" rx="14.8" ry="5.2" transform="rotate(4 80.15 328.00)" fill="#fff"/>
<path d="M59.54,171.76 L100.88,171.76 L105.38,177.55 L109.23,191.04 L110.73,202.82 L110.73,284.64 L52.05,284.64 L52.05,202.82 L53.12,191.04 L56.11,177.55Z" fill="#e0e0e0"/>
<path d="M62.11,153.56 L62.11,168.98 L98.52,168.98 L98.52,153.56 C89.96,147.13 70.68,147.13 62.11,153.56 Z" fill="#990000"/>
<path d="M59.54,168.98 Q80.32,159.13 100.88,168.98 L100.88,173.69 Q80.32,167.70 59.54,173.69 Z" fill="#8fa6c8"/>
<path d="M52.09,284.30 Q81.09,282.19 110.17,284.30 L88.64,303.96 Q87.83,305.42 86.77,305.58 L76.05,305.58 Q75.08,305.42 74.26,303.96 Z" fill="#000"/>
<path d="M97.40,316.20 C98.06,315.28 99.22,313.76 101.37,310.71 C103.52,307.65 106.79,302.58 110.31,297.87 C113.83,293.16 117.76,288.53 122.49,282.44 C127.23,276.35 133.33,268.09 138.74,261.32 C144.16,254.55 150.18,247.26 154.99,241.82 C159.79,236.38 165.48,230.85 167.58,228.66 L178.14,236.30 C175.63,239.11 168.32,247.81 163.11,253.19 C157.90,258.58 152.28,263.35 146.86,268.63 C141.45,273.91 136.03,279.46 130.62,284.88 C125.20,290.29 118.57,296.82 114.37,301.12 C110.17,305.43 108.26,308.20 105.43,310.71 C102.61,313.22 98.74,315.28 97.40,316.20Z" fill="#0000ff"/></g>
<text x="118.00" y="767.50" font-size="25" fill="#990000" text-anchor="start">920 nm</text>
<text x="82.30" y="810.90" font-size="20.83" fill="#006633" text-anchor="middle">Nikon</text>
<text x="80.20" y="852.00" font-size="20.83" fill="#006633" text-anchor="middle">16X</text>
<text x="128.50" y="820.00" font-size="25" fill="#0000ff" text-anchor="start">MK912 bath</text>
<text x="157.00" y="886.00" font-size="25" fill="#000" text-anchor="start">Ethanol i.p.</text>
</svg>
</body></html>
